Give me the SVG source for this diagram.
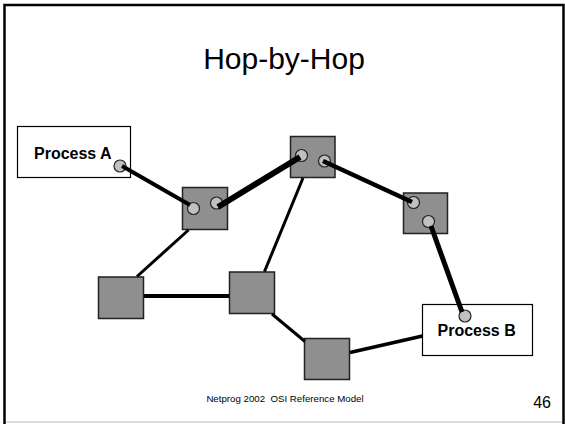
<svg xmlns="http://www.w3.org/2000/svg" width="565" height="424" viewBox="0 0 565 424">
<style>
.title{font-family:"Liberation Sans",Arial,sans-serif;font-size:30px;fill:#000}
.foot{font-family:"Liberation Sans",Arial,sans-serif;font-size:9.7px;fill:#000;white-space:pre}
.num{font-family:"Liberation Sans",Arial,sans-serif;font-size:16px;fill:#000}
.proc{fill:#fff;stroke:#000;stroke-width:1.2}
.plabel{font-family:"Liberation Sans",Arial,sans-serif;font-size:16px;font-weight:bold;fill:#000}
.router{fill:#8f8f8f;stroke:#222;stroke-width:1.5}
.port{fill:#c0c0c0;stroke:#222;stroke-width:1.2}
.link{stroke:#000;fill:none}
</style>
<rect x="0" y="0" width="565" height="424" fill="#fff"/>
<path d="M4.5 424 V5 H563.5 V424" fill="none" stroke="#000" stroke-width="2.5"/>
<line x1="6" y1="422" x2="562" y2="422" stroke="#cfcfcf" stroke-width="1.5"/>
<text class="title" x="284" y="69" text-anchor="middle">Hop-by-Hop</text>

<g id="processA">
<rect class="proc" x="17.5" y="126.5" width="113" height="51"/>
<text class="plabel" x="34" y="159">Process A</text>
<circle class="port" cx="120" cy="166" r="6"/>
</g>
<g id="processB">
<rect class="proc" x="422.5" y="304.5" width="110" height="51"/>
<text class="plabel" x="437.5" y="336">Process B</text>
<circle class="port" cx="465" cy="316" r="6"/>
</g>
<g id="router1">
<rect class="router" x="182.5" y="187.5" width="45" height="42"/>
<circle class="port" cx="193.5" cy="208.5" r="6"/>
<circle class="port" cx="216.5" cy="203" r="6"/>
</g>
<g id="router2">
<rect class="router" x="290.5" y="136.5" width="44.5" height="41"/>
<circle class="port" cx="301.5" cy="155.5" r="6"/>
<circle class="port" cx="324.5" cy="161" r="6"/>
</g>
<g id="router3">
<rect class="router" x="403.5" y="193" width="44" height="40.5"/>
<circle class="port" cx="413.5" cy="202.5" r="6"/>
<circle class="port" cx="428.5" cy="221.5" r="6"/>
</g>
<g id="router4">
<rect class="router" x="98.5" y="277" width="45" height="41.5"/>
</g>
<g id="router5">
<rect class="router" x="229.5" y="272" width="45" height="41.5"/>
</g>
<g id="router6">
<rect class="router" x="304.5" y="338.5" width="45" height="41"/>
</g>

<g id="connectors">
<line class="link" x1="122" y1="166" x2="190" y2="205" stroke-width="4"/>
<line class="link" x1="218" y1="207" x2="300" y2="157" stroke-width="6"/>
<line class="link" x1="323" y1="161" x2="412" y2="202" stroke-width="4.5"/>
<line class="link" x1="431" y1="226" x2="462" y2="312" stroke-width="5"/>
<line class="link" x1="188.5" y1="230" x2="137" y2="276.5" stroke-width="3"/>
<line class="link" x1="303" y1="178" x2="264.5" y2="271.5" stroke-width="3"/>
<line class="link" x1="144" y1="296" x2="229" y2="296" stroke-width="4"/>
<line class="link" x1="272" y1="314" x2="305" y2="341.5" stroke-width="3"/>
<line class="link" x1="350" y1="352.5" x2="422.5" y2="336" stroke-width="3.5"/>
</g>

<text class="foot" x="285" y="402" text-anchor="middle" xml:space="preserve">Netprog 2002  OSI Reference Model</text>
<text class="num" x="551" y="408" text-anchor="end">46</text>
</svg>
